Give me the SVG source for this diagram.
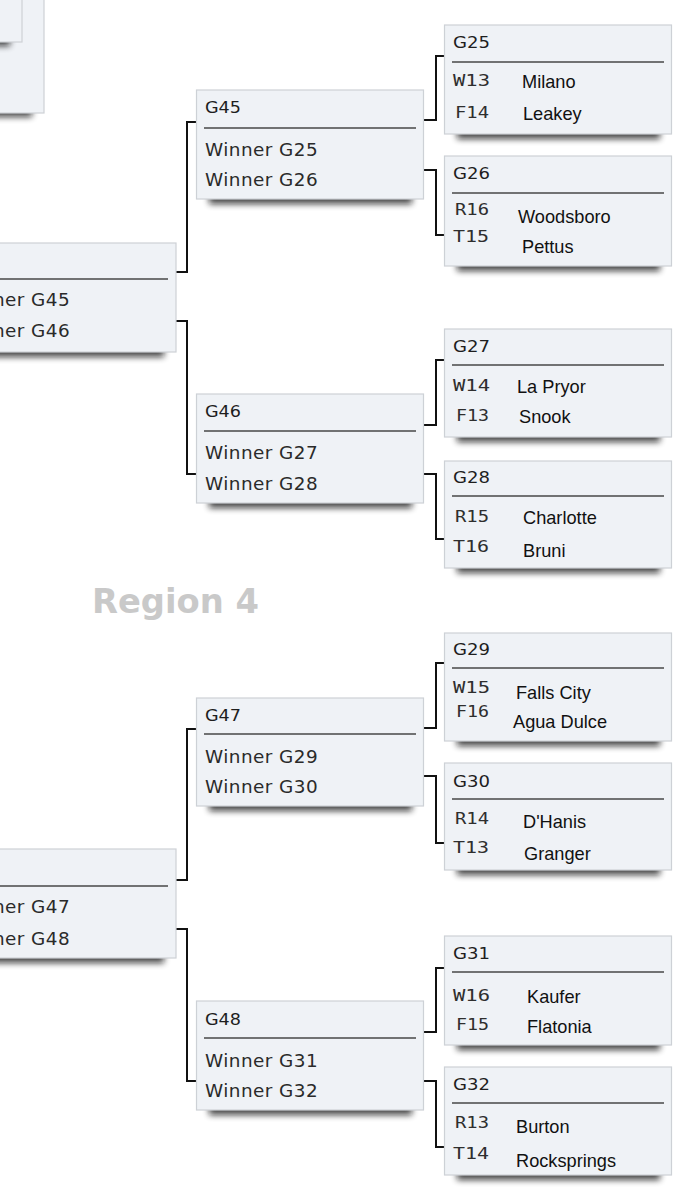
<svg xmlns="http://www.w3.org/2000/svg" width="675" height="1200" viewBox="0 0 675 1200">
<defs>
<filter id="blur" x="-20%" y="-200%" width="140%" height="500%"><feGaussianBlur stdDeviation="3.4"/></filter>
</defs>
<style>
.box{fill:#eff2f6;stroke:#cdd1d6;stroke-width:1.2}
.sh{fill:#0d0d0d;opacity:.75;filter:url(#blur)}
.rule{stroke:#474747;stroke-width:1.6}
.hd{font-family:"DejaVu Sans",Verdana,sans-serif;font-size:16px;fill:#1e1e1e}
.sd{font-family:"DejaVu Sans Mono",monospace;font-size:15.5px;fill:#2e2e2e}
.tm{font-family:"Liberation Sans",Arial,sans-serif;font-size:18.2px;fill:#111}
.wn{font-family:"DejaVu Sans",Verdana,sans-serif;font-size:18.4px;fill:#2a2a2a;letter-spacing:0.45px}
.rg{font-family:"DejaVu Sans",Verdana,sans-serif;font-size:33px;font-weight:bold;fill:#c9c9c9}
.cn{fill:none;stroke:#111;stroke-width:2}
</style>
<rect width="675" height="1200" fill="#fff"/>

<g id="prev-round">
<rect class="sh" x="-180" y="103" width="212" height="14"/>
<rect class="box" x="-200" y="-50" width="244" height="163"/>
<rect class="sh" x="-180" y="32" width="190" height="14"/>
<rect class="box" x="-200" y="-50" width="222" height="92"/>
</g>

<g id="connectors">
<path class="cn" d="M176,272 H187 V122 H197"/>
<path class="cn" d="M176,321 H187 V474 H197"/>
<path class="cn" d="M176,880 H187 V729 H197"/>
<path class="cn" d="M176,929 H187 V1081 H197"/>
<path class="cn" d="M423,120 H436 V56 H445"/>
<path class="cn" d="M423,170 H436 V235 H445"/>
<path class="cn" d="M423,425 H436 V360 H445"/>
<path class="cn" d="M423,474 H436 V539 H445"/>
<path class="cn" d="M423,728 H436 V663 H445"/>
<path class="cn" d="M423,776 H436 V843 H445"/>
<path class="cn" d="M423,1032 H436 V968 H445"/>
<path class="cn" d="M423,1081 H436 V1147 H445"/>
</g>

<g id="L1">
<rect class="sh" x="-39" y="343" width="203" height="14"/>
<rect class="box" x="-51" y="243" width="227" height="109"/>
<line class="rule" x1="-44" y1="279" x2="168" y2="279"/>
<text class="wn" x="-43" y="306">Winner G45</text>
<text class="wn" x="-43" y="337">Winner G46</text>
</g>
<g id="L2">
<rect class="sh" x="-39" y="949" width="203" height="14"/>
<rect class="box" x="-51" y="849" width="227" height="109"/>
<line class="rule" x1="-44" y1="886" x2="168" y2="886"/>
<text class="wn" x="-43" y="913">Winner G47</text>
<text class="wn" x="-43" y="945">Winner G48</text>
</g>

<g id="G45">
<rect class="sh" x="209" y="190" width="203" height="14"/>
<rect class="box" x="196.5" y="90" width="227" height="109"/>
<text class="hd" x="205" y="113" textLength="36" lengthAdjust="spacingAndGlyphs">G45</text>
<line class="rule" x1="204" y1="128" x2="416" y2="128"/>
<text class="wn" x="205" y="156">Winner G25</text>
<text class="wn" x="205" y="186">Winner G26</text>
</g>
<g id="G46">
<rect class="sh" x="209" y="494" width="203" height="14"/>
<rect class="box" x="196.5" y="394" width="227" height="109"/>
<text class="hd" x="205" y="417" textLength="36" lengthAdjust="spacingAndGlyphs">G46</text>
<line class="rule" x1="204" y1="431" x2="416" y2="431"/>
<text class="wn" x="205" y="459">Winner G27</text>
<text class="wn" x="205" y="490">Winner G28</text>
</g>
<g id="G47">
<rect class="sh" x="209" y="797" width="203" height="14"/>
<rect class="box" x="196.5" y="698" width="227" height="108"/>
<text class="hd" x="205" y="721" textLength="36" lengthAdjust="spacingAndGlyphs">G47</text>
<line class="rule" x1="204" y1="734" x2="416" y2="734"/>
<text class="wn" x="205" y="763">Winner G29</text>
<text class="wn" x="205" y="793">Winner G30</text>
</g>
<g id="G48">
<rect class="sh" x="209" y="1101" width="203" height="14"/>
<rect class="box" x="196.5" y="1001" width="227" height="109"/>
<text class="hd" x="205" y="1025" textLength="36" lengthAdjust="spacingAndGlyphs">G48</text>
<line class="rule" x1="204" y1="1038" x2="416" y2="1038"/>
<text class="wn" x="205" y="1067">Winner G31</text>
<text class="wn" x="205" y="1097">Winner G32</text>
</g>

<g id="G25">
<rect class="sh" x="457" y="125" width="203" height="14"/>
<rect class="box" x="444.5" y="25" width="227" height="109"/>
<text class="hd" x="453" y="48" textLength="37" lengthAdjust="spacingAndGlyphs">G25</text>
<line class="rule" x1="452" y1="62" x2="664" y2="62"/>
<text class="sd" x="453" y="86" textLength="37" lengthAdjust="spacingAndGlyphs">W13</text>
<text class="tm" x="522" y="88">Milano</text>
<text class="sd" x="455" y="118" textLength="34" lengthAdjust="spacingAndGlyphs">F14</text>
<text class="tm" x="523" y="120">Leakey</text>
</g>
<g id="G26">
<rect class="sh" x="457" y="257" width="203" height="14"/>
<rect class="box" x="444.5" y="156" width="227" height="110"/>
<text class="hd" x="453" y="179" textLength="37" lengthAdjust="spacingAndGlyphs">G26</text>
<line class="rule" x1="452" y1="193" x2="664" y2="193"/>
<text class="sd" x="455" y="215" textLength="34" lengthAdjust="spacingAndGlyphs">R16</text>
<text class="tm" x="518" y="223">Woodsboro</text>
<text class="sd" x="453" y="242" textLength="36" lengthAdjust="spacingAndGlyphs">T15</text>
<text class="tm" x="522" y="253">Pettus</text>
</g>
<g id="G27">
<rect class="sh" x="457" y="428" width="203" height="14"/>
<rect class="box" x="444.5" y="329" width="227" height="108"/>
<text class="hd" x="453" y="352" textLength="37" lengthAdjust="spacingAndGlyphs">G27</text>
<line class="rule" x1="452" y1="365" x2="664" y2="365"/>
<text class="sd" x="453" y="391" textLength="37" lengthAdjust="spacingAndGlyphs">W14</text>
<text class="tm" x="517" y="393">La Pryor</text>
<text class="sd" x="456" y="421" textLength="33" lengthAdjust="spacingAndGlyphs">F13</text>
<text class="tm" x="519" y="423">Snook</text>
</g>
<g id="G28">
<rect class="sh" x="457" y="559" width="203" height="14"/>
<rect class="box" x="444.5" y="461" width="227" height="107"/>
<text class="hd" x="453" y="483" textLength="37" lengthAdjust="spacingAndGlyphs">G28</text>
<line class="rule" x1="452" y1="496" x2="664" y2="496"/>
<text class="sd" x="455" y="522" textLength="34" lengthAdjust="spacingAndGlyphs">R15</text>
<text class="tm" x="523" y="524">Charlotte</text>
<text class="sd" x="453" y="552" textLength="36" lengthAdjust="spacingAndGlyphs">T16</text>
<text class="tm" x="523" y="557">Bruni</text>
</g>

<text class="rg" x="92" y="613" textLength="167" lengthAdjust="spacingAndGlyphs">Region 4</text>

<g id="G29">
<rect class="sh" x="457" y="732" width="203" height="14"/>
<rect class="box" x="444.5" y="633" width="227" height="108"/>
<text class="hd" x="453" y="655" textLength="37" lengthAdjust="spacingAndGlyphs">G29</text>
<line class="rule" x1="452" y1="668" x2="664" y2="668"/>
<text class="sd" x="453" y="693" textLength="37" lengthAdjust="spacingAndGlyphs">W15</text>
<text class="tm" x="516" y="699">Falls City</text>
<text class="sd" x="456" y="717" textLength="33" lengthAdjust="spacingAndGlyphs">F16</text>
<text class="tm" x="513" y="728">Agua Dulce</text>
</g>
<g id="G30">
<rect class="sh" x="457" y="861" width="203" height="14"/>
<rect class="box" x="444.5" y="763" width="227" height="107"/>
<text class="hd" x="453" y="787" textLength="37" lengthAdjust="spacingAndGlyphs">G30</text>
<line class="rule" x1="452" y1="799" x2="664" y2="799"/>
<text class="sd" x="455" y="824" textLength="34" lengthAdjust="spacingAndGlyphs">R14</text>
<text class="tm" x="523" y="828">D'Hanis</text>
<text class="sd" x="453" y="853" textLength="36" lengthAdjust="spacingAndGlyphs">T13</text>
<text class="tm" x="524" y="860">Granger</text>
</g>
<g id="G31">
<rect class="sh" x="457" y="1036" width="203" height="14"/>
<rect class="box" x="444.5" y="936" width="227" height="109"/>
<text class="hd" x="453" y="959" textLength="37" lengthAdjust="spacingAndGlyphs">G31</text>
<line class="rule" x1="452" y1="972" x2="664" y2="972"/>
<text class="sd" x="453" y="1001" textLength="37" lengthAdjust="spacingAndGlyphs">W16</text>
<text class="tm" x="527" y="1003">Kaufer</text>
<text class="sd" x="456" y="1030" textLength="33" lengthAdjust="spacingAndGlyphs">F15</text>
<text class="tm" x="527" y="1033">Flatonia</text>
</g>
<g id="G32">
<rect class="sh" x="457" y="1166" width="203" height="14"/>
<rect class="box" x="444.5" y="1067" width="227" height="108"/>
<text class="hd" x="453" y="1090" textLength="37" lengthAdjust="spacingAndGlyphs">G32</text>
<line class="rule" x1="452" y1="1103" x2="664" y2="1103"/>
<text class="sd" x="455" y="1128" textLength="34" lengthAdjust="spacingAndGlyphs">R13</text>
<text class="tm" x="516" y="1133">Burton</text>
<text class="sd" x="453" y="1159" textLength="36" lengthAdjust="spacingAndGlyphs">T14</text>
<text class="tm" x="516" y="1167">Rocksprings</text>
</g>
</svg>
